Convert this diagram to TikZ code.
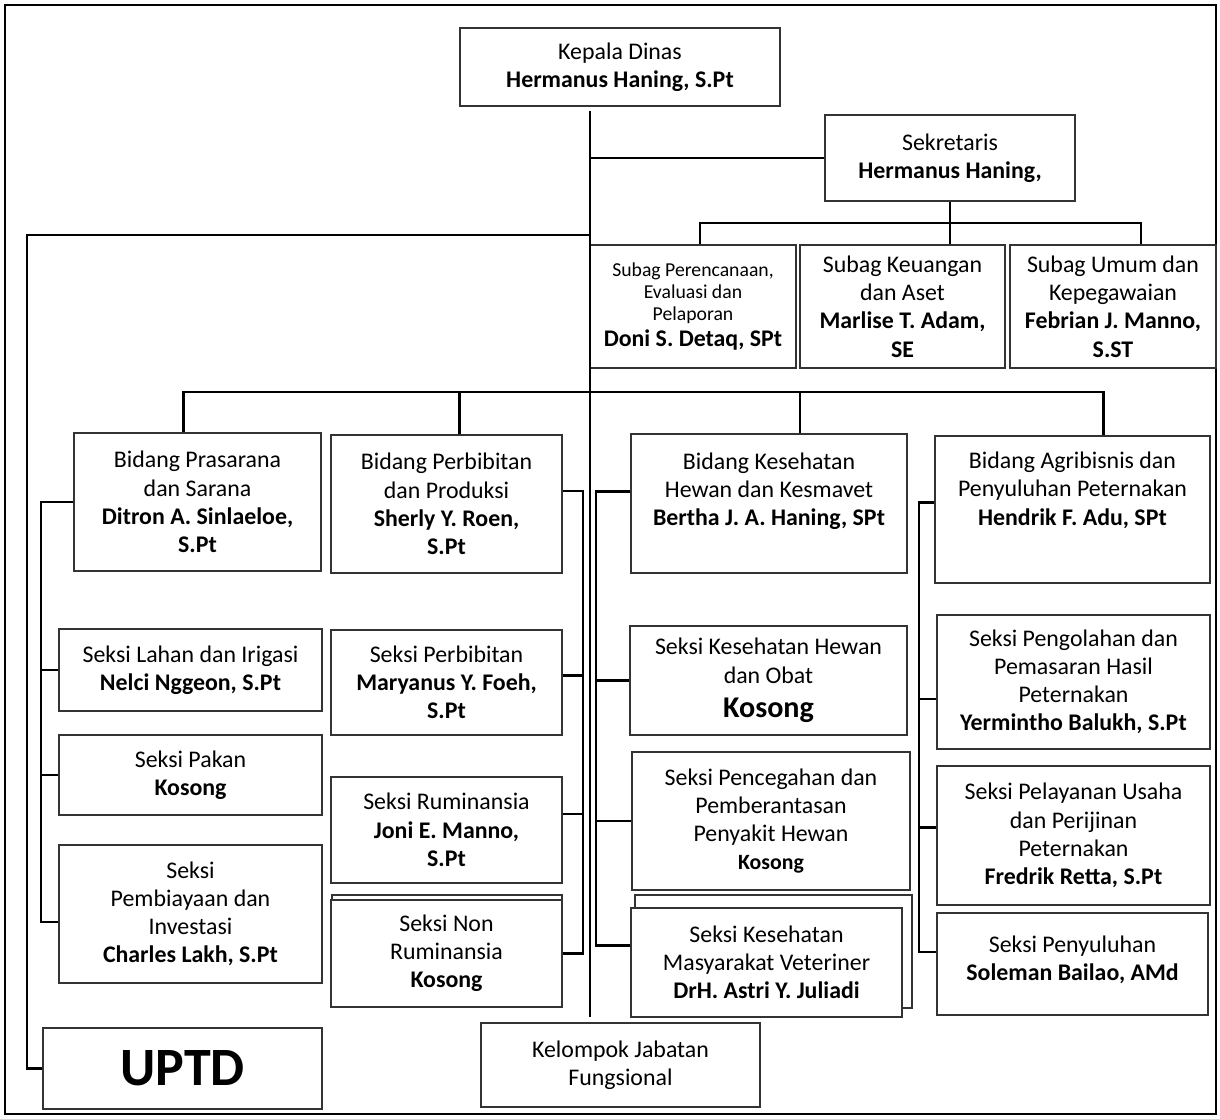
\documentclass[tikz,border=0pt]{standalone}
\usepackage{fontspec}
\setmainfont{Carlito}
\usetikzlibrary{calc}
\newlength{\pxu}
\setlength{\pxu}{0.01693cm}
\tikzset{
  box/.style={draw=black!80, line width=0.6pt, fill=white, align=center, inner sep=1pt,
    font=\fontsize{11.5}{13.6}\selectfont},
  wh/.style 2 args={minimum width=#1*\pxu, minimum height=#2*\pxu},
  backbox/.style={draw=black!80, line width=0.6pt, fill=white},
  conn/.style={line width=1pt, black},
}
\newcommand{\smallsz}{\fontsize{9.5}{10.5}\selectfont}

\begin{document}
\begin{tikzpicture}[x=0.01693cm, y=-0.01693cm]
  \useasboundingbox (0,0) rectangle (1220,1119);
  \draw[line width=1pt] (5,5) rectangle (1216,1114);

  % pimpinan
  \node[box, wh={320}{78}] (kadis) at (620,67) {Kepala Dinas\\\textbf{Hermanus Haning, S.Pt}};
  \node[box, wh={250}{86}] (sekre) at (950,158) {Sekretaris\\\textbf{Hermanus Haning,}};

  % subbagian
  \node[box, wh={206}{123}] (subPer) at (693,306.5)
    {\smallsz Subag Perencanaan,\\[-3pt]\smallsz Evaluasi dan\\[-3pt]\smallsz Pelaporan\\[-1.5pt]\textbf{Doni S. Detaq, SPt}};
  \node[box, wh={205}{123}] (subKeu) at (902.5,306.5)
    {Subag Keuangan\\dan Aset\\\textbf{Marlise T. Adam,}\\\textbf{SE}};
  \node[box, wh={206}{123}] (subUmum) at (1113,306.5)
    {Subag Umum dan\\Kepegawaian\\\textbf{Febrian J. Manno,}\\\textbf{S.ST}};

  % bidang
  \node[box, wh={247}{138}] (bPras) at (197.5,502)
    {Bidang Prasarana\\dan Sarana\\\textbf{Ditron A. Sinlaeloe,}\\\textbf{S.Pt}};
  \node[box, wh={231}{138}] (bPerb) at (446.5,504)
    {Bidang Perbibitan\\dan Produksi\\\textbf{Sherly Y. Roen,}\\\textbf{S.Pt}};
  \node[box, wh={276}{139}] (bKes) at (769,503.5)
    {Bidang Kesehatan\\Hewan dan Kesmavet\\\textbf{Bertha J. A. Haning, SPt}\\~};
  \node[box, wh={275}{147}] (bAgri) at (1072.5,509.5)
    {Bidang Agribisnis dan\\Penyuluhan Peternakan\\\textbf{Hendrik F. Adu, SPt}\\~\\[-7pt]~};

  % seksi prasarana
  \node[box, wh={263}{82}] (sLahan) at (190.5,670) {Seksi Lahan dan Irigasi\\\textbf{Nelci Nggeon, S.Pt}};
  \node[box, wh={263}{80}] (sPakan) at (190.5,775) {Seksi Pakan\\\textbf{Kosong}};
  \node[box, wh={263}{138}] (sBiaya) at (190.5,914)
    {Seksi\\Pembiayaan dan\\Investasi\\\textbf{Charles Lakh, S.Pt}};
  \node[box, wh={279}{81}] (uptd) at (182.5,1068.5) {\fontsize{26}{30}\selectfont\bfseries UPTD};

  % seksi perbibitan
  \node[box, wh={231}{105}] (sBibit) at (446.5,682.5) {Seksi Perbibitan\\\textbf{Maryanus Y. Foeh,}\\\textbf{S.Pt}};
  \node[box, wh={231}{106}] (sRumi) at (446.5,830) {Seksi Ruminansia\\\textbf{Joni E. Manno,}\\\textbf{S.Pt}};
  \draw[backbox] (332,895) rectangle (562,1003);
  \node[box, wh={231}{107}] (sNonRumi) at (446.5,953.5) {Seksi Non\\Ruminansia\\\textbf{Kosong}};

  % seksi kesehatan
  \node[box, wh={277}{109}] (sKesHewan) at (768.5,680.5)
    {Seksi Kesehatan Hewan\\dan Obat\\[3pt]{\fontsize{14.5}{16}\selectfont\bfseries Kosong}};
  \node[box, wh={278}{138}] (sCegah) at (771,821)
    {Seksi Pencegahan dan\\Pemberantasan\\Penyakit Hewan\\{\fontsize{10.5}{12}\selectfont\bfseries Kosong}};
  \draw[backbox] (635,895) rectangle (912,1008);
  \node[box, wh={271}{109}] (sKesmas) at (766.5,962.5)
    {Seksi Kesehatan\\Masyarakat Veteriner\\\textbf{DrH. Astri Y. Juliadi}};

  % seksi agribisnis
  \node[box, wh={273}{134}] (sOlah) at (1073.5,682)
    {Seksi Pengolahan dan\\Pemasaran Hasil\\Peternakan\\\textbf{Yermintho Balukh, S.Pt}};
  \node[box, wh={273}{139}] (sLayan) at (1073.5,835.5)
    {Seksi Pelayanan Usaha\\dan Perijinan\\Peternakan\\\textbf{Fredrik Retta, S.Pt}};
  \node[box, wh={271}{102}] (sSuluh) at (1072.5,964) {Seksi Penyuluhan\\\textbf{Soleman Bailao, AMd}\\[-8pt]~};

  \node[box, wh={279}{84}] (jafung) at (620.5,1065) {Kelompok Jabatan\\Fungsional};

  % garis komando
  \coordinate (t1) at (590,111);
  \coordinate (u1) at (27,235);
  \coordinate (sb) at (950,223);
  \coordinate (bus) at (590,392);
  \coordinate (r1) at (41,0);
  \coordinate (r2) at (583,0);
  \coordinate (r3) at (596,0);
  \coordinate (r4) at (919,0);
  \coordinate (eA) at ([yshift=-8*\pxu]sBiaya.west);
  \coordinate (eC) at ([yshift=17*\pxu]sKesmas.west);
  \coordinate (eD) at ([yshift=12*\pxu]sSuluh.west);

  \draw[conn] (t1) -- ([yshift=5*\pxu]t1 |- jafung.north);
  \draw[conn] (t1 |- sekre.west) -- (sekre.west);
  \draw[conn] (t1 |- u1) -- (u1) |- (uptd.west);

  \draw[conn] (sekre.south) -- (sb) -- (sb |- subKeu.north);
  \draw[conn] ([xshift=7*\pxu]subPer.north) |- (sb) -| ([xshift=28*\pxu]subUmum.north);

  \draw[conn] ([xshift=-14*\pxu]bPras.north) |- (bus) -| ([xshift=31*\pxu]bAgri.north);
  \draw[conn] ([xshift=13*\pxu]bPerb.north) coordinate (dB) -- (dB |- bus);
  \draw[conn] ([xshift=31*\pxu]bKes.north) coordinate (dC) -- (dC |- bus);

  % bidang prasarana
  \draw[conn] (bPras.west) -| (r1 |- eA) -- (eA);
  \foreach \s in {sLahan,sPakan}
    \draw[conn] (\s.west) -- (\s.west -| r1);

  % bidang perbibitan
  \draw[conn] ([yshift=13*\pxu]bPerb.east) -| (r2 |- sNonRumi.east) -- (sNonRumi.east);
  \draw[conn] ([yshift=7*\pxu]sBibit.east) coordinate (eB1) -- (eB1 -| r2);
  \draw[conn] ([yshift=16*\pxu]sRumi.east) coordinate (eB2) -- (eB2 -| r2);

  % bidang kesehatan
  \draw[conn] ([yshift=12*\pxu]bKes.west) -| (r3 |- eC) -- (eC);
  \foreach \s in {sKesHewan,sCegah}
    \draw[conn] (\s.west) -- (\s.west -| r3);

  % bidang agribisnis
  \draw[conn] ([yshift=7*\pxu]bAgri.west) -| (r4 |- eD) -- (eD);
  \draw[conn] ([yshift=-17*\pxu]sOlah.west) coordinate (eD1) -- (eD1 -| r4);
  \draw[conn] ([yshift=8*\pxu]sLayan.west) coordinate (eD2) -- (eD2 -| r4);
\end{tikzpicture}
\end{document}
